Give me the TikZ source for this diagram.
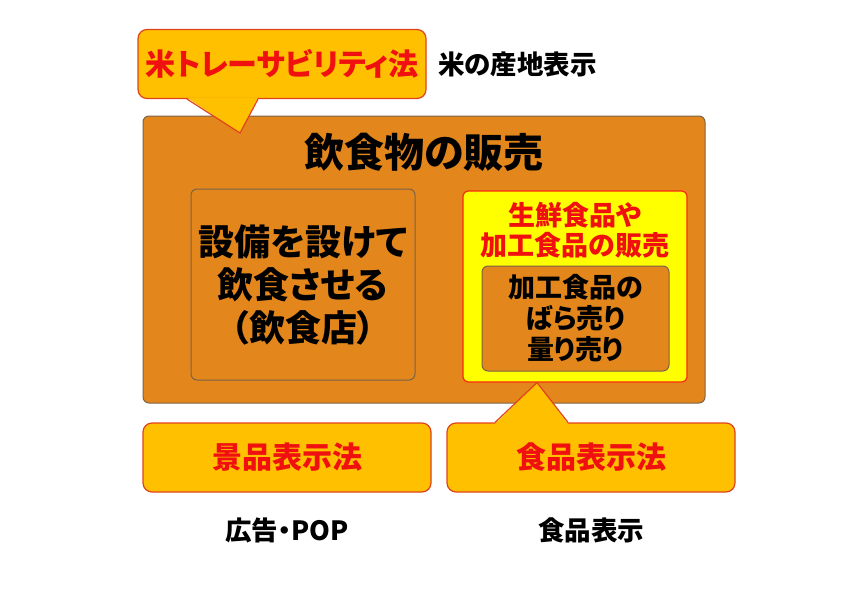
\documentclass[tikz,border=0pt]{standalone}
\usepackage{fontspec}
\newfontfamily\jp{Noto Sans CJK JP}[RawFeature=+palt]
\usetikzlibrary{positioning}
\definecolor{gold}{HTML}{FFC000}
\definecolor{goldedge}{HTML}{E0441C}
\definecolor{lawred}{HTML}{F01010}
\definecolor{sale}{HTML}{E3861B}
\definecolor{saleedge}{HTML}{7A6448}
\definecolor{fresh}{HTML}{FFFF00}
\definecolor{freshedge}{HTML}{F82A10}
\newcommand\fs[2]{\fontsize{#1}{#2}\selectfont}

\begin{document}
\begin{tikzpicture}[x=1pt,y=-1pt,
 lawbox/.style={draw=goldedge,fill=gold,line width=1.2pt,rounded corners=9pt,
 minimum width=288pt,minimum height=69pt,text=lawred,font=\jp\bfseries\fs{30}{36}},
 salebox/.style={draw=saleedge,fill=sale,line width=1pt,rounded corners=6pt,align=center},
 note/.style={font=\jp\bfseries\fs{26.5}{30}}]
\useasboundingbox (0,0) rectangle (858,594);
\node[salebox,minimum width=562pt,minimum height=287pt] (sale) at (424,259.5) {};
\node[font=\jp\bfseries\fs{40}{46}] (title) at (424,152) {飲食物の販売};
\node[salebox,minimum width=224pt,minimum height=191pt,font=\jp\bfseries\fs{36}{43}] (dine) at (303,284.5) {設備を設けて\\飲食させる\\（飲食店）};
\node[draw=freshedge,fill=fresh,line width=1.2pt,rounded corners=5pt,minimum width=224pt,minimum height=191pt] (fresh) at (575,286.5) {};
\node[text=lawred,align=center,font=\jp\bfseries\fs{27}{30}] (freshtext) at (575,230) {生鮮食品や\\加工食品の販売};
\node[salebox,minimum width=187pt,minimum height=105pt,font=\jp\bfseries\fs{27}{31}] (bulk) at (575.5,318.5) {加工食品の\\ばら売り\\量り売り};
\node[lawbox] (trace) at (282,64) {米トレーサビリティ法};
\node[note,right=8pt of trace] (rice) {米の産地表示};
\node[lawbox] (keihin) at (287,457.5) {景品表示法};
\node[lawbox] (shokuhin) at (591,457.5) {食品表示法};
\node[note,below=22pt of keihin] (ad) {広告・POP};
\node[note,below=22pt of shokuhin] (foodlabel) {食品表示};
\coordinate (traceTip) at (240,133);
\coordinate (shokuTip) at ([xshift=-38pt]fresh.south);
\foreach \law/\side/\tip/\a/\b/\s in {trace/south/traceTip/-95/-24/1.5,shokuhin/north/shokuTip/-96/-23/-1.5}{
 \fill[gold] ([xshift=\a pt,yshift=\s pt]\law.\side) -- (\tip) -- ([xshift=\b pt,yshift=\s pt]\law.\side) -- cycle;
 \draw[goldedge,line width=1.2pt] ([xshift=\a pt]\law.\side) -- (\tip) -- ([xshift=\b pt]\law.\side);
}
\end{tikzpicture}
\end{document}
